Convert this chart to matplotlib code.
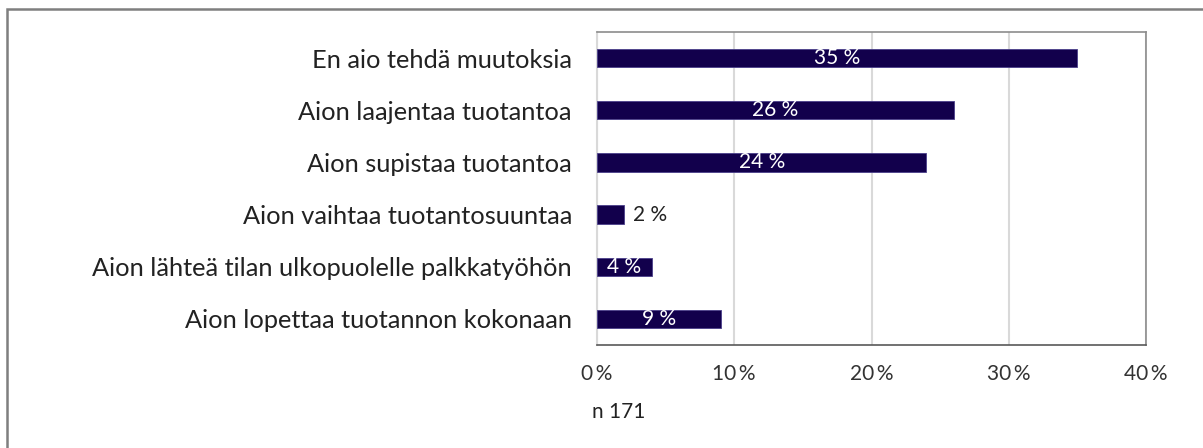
import numpy as np
import matplotlib.pyplot as plt
from matplotlib.patches import Rectangle

# dane z wykresu
kategoriat = ["En aio tehdä muutoksia",
              "Aion laajentaa tuotantoa",
              "Aion supistaa tuotantoa",
              "Aion vaihtaa tuotantosuuntaa",
              "Aion lähteä tilan ulkopuolelle palkkatyöhön",
              "Aion lopettaa tuotannon kokonaan"]
osuudet = [35, 26, 24, 2, 4, 9]
xticks = [0, 10, 20, 30, 40]
n_text = "n 171"

plt.rcParams['font.family'] = ['Lato', 'DejaVu Sans']

W, H = 1203, 448
fig = plt.figure(figsize=(W / 100, H / 100), dpi=100)
ax = fig.add_axes([597 / W, 1 - 345 / H, (1146 - 597) / W, (345 - 32) / H])

y = np.arange(len(kategoriat))[::-1]
bar_col = '#12004c'
ax.barh(y, osuudet, height=0.35, color=bar_col, edgecolor='#4a3f8a', lw=0.6, zorder=3)

for yi, v in zip(y, osuudet):
    if v < 3:
        ax.text(v + 0.6, yi, f"{v} %", va='center', ha='left', fontsize=15, color='#222222')
    else:
        ax.text(v / 2, yi, f"{v} %", va='center', ha='center', fontsize=15, color='white', zorder=4)

ax.set_xlim(0, 40)
ax.set_ylim(-0.5, len(kategoriat) - 0.5)
ax.set_xticks(xticks)
ax.set_xticklabels([f"{t}\u2009%" for t in xticks], fontsize=15, color='#333333')
ax.set_yticks(y)
ax.set_yticklabels(kategoriat, fontsize=18.3, color='#222222')
ax.tick_params(axis='both', length=0)
ax.tick_params(axis='y', pad=18)
ax.tick_params(axis='x', pad=14)
ax.grid(axis='x', color='#d9d9d9', lw=1.5, zorder=0)

for s in ['top', 'right']:
    ax.spines[s].set_color('#8c8c8c')
    ax.spines[s].set_linewidth(1.2)
ax.spines['left'].set_color('#d9d9d9')
ax.spines['left'].set_linewidth(1.5)
ax.spines['bottom'].set_color('#595959')
ax.spines['bottom'].set_linewidth(1.2)

fig.text(592 / W, 1 - 412 / H, n_text, fontsize=15, color='#222222', va='center', ha='left')

# ramka wokol wykresu
fig.patches.append(Rectangle((7 / W, -0.1), 1.2, 1.1 - 9 / H, transform=fig.transFigure,
                             fill=False, edgecolor='#7f7f7f', lw=1.8))

plt.savefig("out.png", dpi=100)
